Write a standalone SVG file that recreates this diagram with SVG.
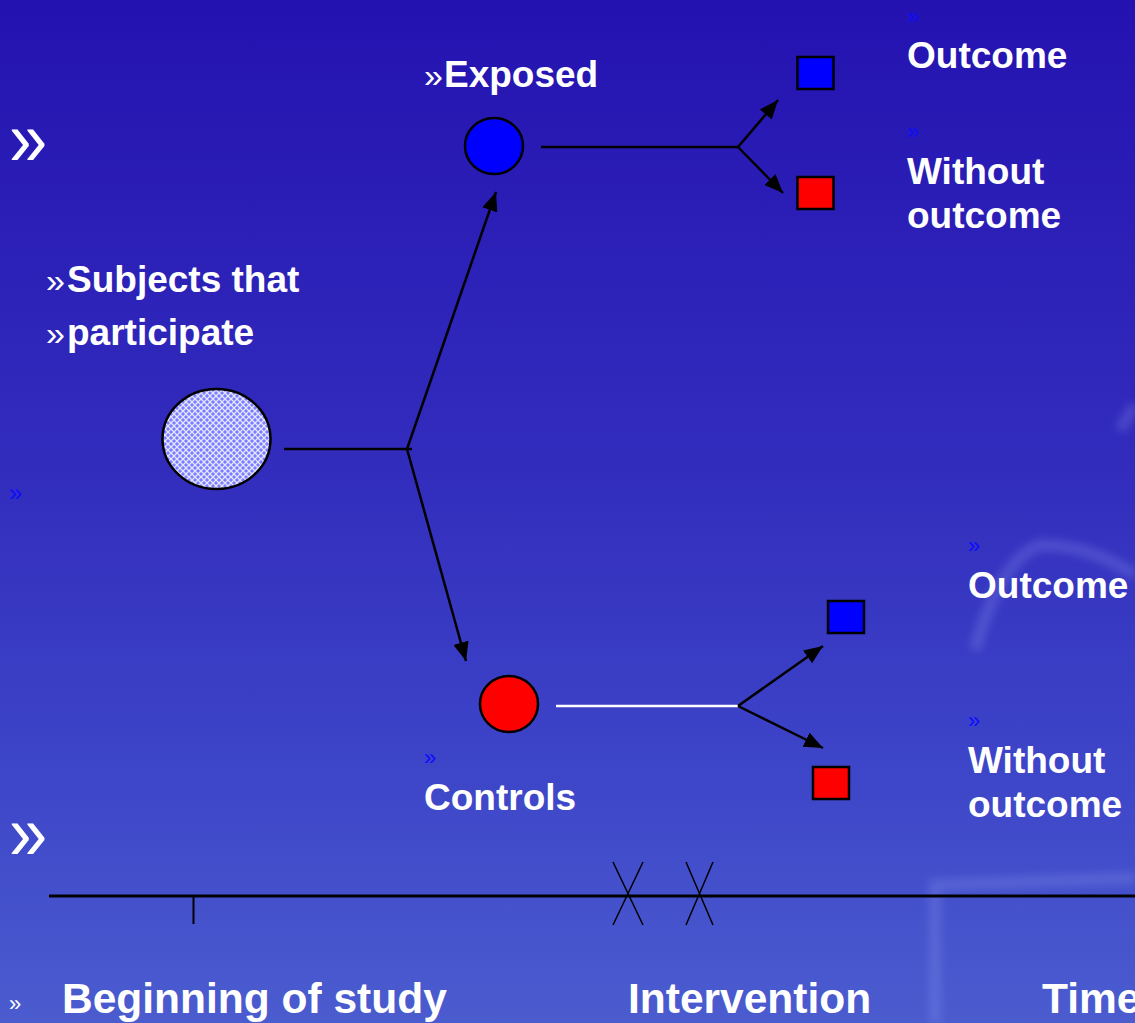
<svg xmlns="http://www.w3.org/2000/svg" width="1135" height="1023" viewBox="0 0 1135 1023">
  <defs>
    <linearGradient id="bg" x1="0" y1="0" x2="0" y2="1">
      <stop offset="0" stop-color="#2412b0"/>
      <stop offset="0.45" stop-color="#322cbd"/>
      <stop offset="0.75" stop-color="#3d45c8"/>
      <stop offset="1" stop-color="#4b5ccf"/>
    </linearGradient>
    <pattern id="hatch" width="6" height="6" patternUnits="userSpaceOnUse">
      <rect width="6" height="6" fill="#7b7cff"/>
      <path d="M0 0 L6 6 M6 0 L0 6" stroke="#e4e6ff" stroke-width="1.3"/>
    </pattern>
    <marker id="arrow" viewBox="0 0 12 10" refX="12" refY="5" markerWidth="7.6" markerHeight="6.3" orient="auto" markerUnits="strokeWidth">
      <path d="M0 0 L12 5 L0 10 z" fill="#000"/>
    </marker>
    <filter id="soft" x="-20%" y="-20%" width="140%" height="140%">
      <feGaussianBlur stdDeviation="4"/>
    </filter>
    <style>
      .lbl { font-family: "Liberation Sans", Arial, sans-serif; font-weight: bold; fill: #ffffff; font-size: 37px; }
      .big { font-size: 42.5px; }
      .bul { font-family: "Liberation Sans", Arial, sans-serif; fill: #ffffff; font-size: 34px; }
      .bulb { font-family: "Liberation Sans", Arial, sans-serif; fill: #0c0cff; font-size: 22px; }
      .chev { font-family: "Liberation Sans", Arial, sans-serif; fill: #ffffff; font-size: 78px; }
      .edge { stroke: #000; stroke-width: 2.5; fill: none; }
      .shape { stroke: #000; stroke-width: 2.5; }
    </style>
  </defs>

  <!-- backdrop -->
  <rect width="1135" height="1023" fill="url(#bg)"/>
  <g opacity="0.28" filter="url(#soft)" fill="none" stroke="#8c95ee" stroke-width="12">
    <path d="M975 650 Q1000 560 1040 545 Q1090 545 1135 575"/>
    <path d="M1120 430 L1135 405"/>
    <path d="M935 1023 L935 885 L1135 878"/>
  </g>

  <!-- bullets -->
  <g id="bullets">
    <text class="chev" x="9" y="165" transform="translate(9 0) scale(0.88 1) translate(-9 0)">»</text>
    <text class="chev" x="9" y="859" transform="translate(9 0) scale(0.88 1) translate(-9 0)">»</text>
    <text class="bulb" x="9" y="501" style="font-size:24px">»</text>
    <text class="bul" x="9" y="1011" style="font-size:22px">»</text>
  </g>

  <!-- connectors -->
  <g id="connectors">
    <line class="edge" x1="284" y1="449" x2="412" y2="449"/>
    <line class="edge" x1="407" y1="449" x2="496" y2="192" marker-end="url(#arrow)"/>
    <line class="edge" x1="407" y1="449" x2="466" y2="661" marker-end="url(#arrow)"/>
    <line class="edge" x1="541" y1="147" x2="738" y2="147"/>
    <line class="edge" x1="738" y1="147" x2="778" y2="100" marker-end="url(#arrow)"/>
    <line class="edge" x1="738" y1="147" x2="783" y2="193" marker-end="url(#arrow)"/>
    <line x1="556" y1="706" x2="738" y2="706" stroke="#ffffff" stroke-width="2.5"/>
    <line class="edge" x1="738" y1="706" x2="823" y2="646" marker-end="url(#arrow)"/>
    <line class="edge" x1="738" y1="706" x2="823" y2="748" marker-end="url(#arrow)"/>
  </g>

  <!-- participants -->
  <g id="participants">
    <ellipse class="shape" cx="216.5" cy="439" rx="54" ry="50" fill="url(#hatch)"/>
    <text class="bul" x="46" y="292">»</text>
    <text class="lbl" x="67" y="292">Subjects that</text>
    <text class="bul" x="46" y="345">»</text>
    <text class="lbl" x="67" y="345">participate</text>
  </g>

  <!-- exposed group -->
  <g id="exposed">
    <ellipse class="shape" cx="494" cy="146" rx="29" ry="28" fill="#0000ff"/>
    <text class="bul" x="424" y="87">»</text>
    <text class="lbl" x="444" y="87">Exposed</text>
  </g>
  <g id="exposed-outcome">
    <rect class="shape" x="797.5" y="57" width="36" height="32" fill="#0000ff"/>
    <text class="bulb" x="907" y="24">»</text>
    <text class="lbl" x="907" y="68">Outcome</text>
  </g>
  <g id="exposed-without">
    <rect class="shape" x="797.5" y="177" width="36" height="32" fill="#ff0000"/>
    <text class="bulb" x="907" y="139">»</text>
    <text class="lbl" x="907" y="184">Without</text>
    <text class="lbl" x="907" y="228">outcome</text>
  </g>

  <!-- control group -->
  <g id="controls">
    <ellipse class="shape" cx="509" cy="704" rx="29" ry="28" fill="#ff0000"/>
    <text class="bulb" x="424" y="765">»</text>
    <text class="lbl" x="424" y="810">Controls</text>
  </g>
  <g id="controls-outcome">
    <rect class="shape" x="828" y="601" width="36" height="32" fill="#0000ff"/>
    <text class="bulb" x="968" y="553">»</text>
    <text class="lbl" x="968" y="598">Outcome</text>
  </g>
  <g id="controls-without">
    <rect class="shape" x="813" y="767" width="36" height="32" fill="#ff0000"/>
    <text class="bulb" x="968" y="728">»</text>
    <text class="lbl" x="968" y="773">Without</text>
    <text class="lbl" x="968" y="817">outcome</text>
  </g>

  <!-- time axis; the last label runs past the right edge -->
  <g id="timeline">
    <line x1="49" y1="896" x2="1135" y2="896" stroke="#000" stroke-width="3"/>
    <line x1="193.5" y1="896" x2="193.5" y2="924" stroke="#000" stroke-width="2"/>
    <path d="M613 862 L643 925 M643 862 L613 925 M686 862 L713 925 M713 862 L686 925" stroke="#000" stroke-width="1.5" fill="none"/>
    <text class="lbl big" x="62" y="1013">Beginning of study</text>
    <text class="lbl big" x="628" y="1013">Intervention</text>
    <text class="lbl big" x="1042" y="1013">Time</text>
  </g>
</svg>
